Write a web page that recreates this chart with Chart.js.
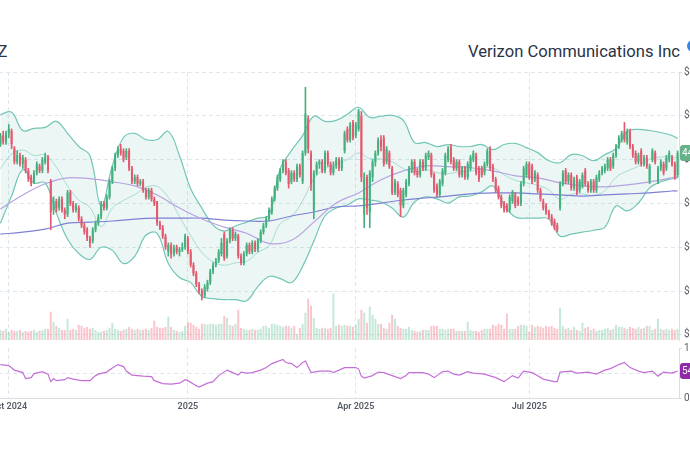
<!DOCTYPE html>
<html>
<head>
<meta charset="utf-8">
<title>VZ</title>
<script src="https://cdn.jsdelivr.net/npm/chart.js@4.4.1/dist/chart.umd.min.js"></script>
<style>
  html, body { margin: 0; padding: 0; background: #fff; }
  body { width: 690px; height: 450px; overflow: hidden; position: relative; }
  .ticker, .company {
    position: absolute; top: 42px; font-family: Roboto, sans-serif;
    font-size: 16.6px; line-height: 20px; color: #2b3345; white-space: nowrap;
  }
  .ticker { left: -13px; }
  .company { right: 10px; }
  .logo { position: absolute; left: 687px; top: 40px; width: 12px; height: 12px; border-radius: 50%; background: #3d86e0; }
  #priceChart { position: absolute; left: -41px; top: 60px; }
  #rsiChart { position: absolute; left: -41px; top: 340px; }
</style>
</head>
<body>
<div class="ticker">VZ</div>
<div class="company">Verizon Communications Inc</div>
<div class="logo"></div>
<canvas id="priceChart" width="780" height="288"></canvas>
<canvas id="rsiChart" width="780" height="81"></canvas>
<script>
// daily candles, Sep 26 2024 .. Sep 16 2025 (one entry per trading day)
const open = [44.7,45.1,44.8,45.2,45.3,44.5,43.9,44.2,43.8,44.0,
  43.5,43.2,43.0,43.4,43.7,43.5,43.9,44.1,43.0,41.7,
  42.1,41.8,42.2,41.7,41.5,42.5,42.0,41.7,41.8,41.3,
  41.0,40.8,40.4,40.3,40.8,41.1,41.4,42.0,41.8,42.3,
  43.0,43.6,44.2,44.5,44.4,44.1,44.4,43.6,43.0,43.2,
  42.9,43.0,42.6,42.3,42.6,42.2,42.1,41.1,40.9,40.5,
  39.8,40.1,39.7,40.0,39.8,39.9,40.0,40.4,39.8,39.2,
  38.8,38.3,38.0,37.8,38.1,38.4,38.9,39.2,39.4,39.7,
  40.6,39.6,40.3,40.8,40.4,40.5,39.6,39.3,39.7,40.1,
  39.8,40.2,39.9,40.3,40.7,41.0,41.3,41.6,42.2,42.7,
  43.1,43.5,43.9,43.5,43.0,43.4,43.1,43.7,43.0,44.3,
  45.9,44.3,41.7,43.4,43.8,43.9,43.5,44.3,43.8,43.4,
  43.7,44.0,43.6,44.4,45.4,44.9,45.7,45.1,45.4,46.0,
  41.5,43.2,41.6,43.2,43.9,44.3,44.9,45.0,43.9,44.3,
  43.6,42.5,42.9,42.6,41.9,42.4,42.9,43.5,43.9,43.5,
  43.3,43.9,43.6,44.1,44.2,43.3,42.8,42.4,42.9,43.4,
  44.0,44.6,44.0,43.6,43.9,43.3,43.6,43.2,43.6,44.0,
  44.2,43.6,43.6,43.4,43.8,44.5,43.7,43.1,42.7,42.3,
  42.0,41.9,41.7,42.1,42.4,42.2,42.0,42.9,43.3,43.8,
  43.7,43.1,43.3,42.6,42.1,41.9,41.6,41.4,41.2,41.0,
  41.8,42.9,43.5,43.0,43.3,42.7,43.2,42.6,42.8,43.5,
  42.9,42.6,43.0,42.6,43.1,43.4,43.5,43.6,44.0,43.7,
  44.2,44.6,44.9,45.3,44.8,45.3,44.6,44.3,43.9,44.4,
  43.8,44.1,43.0,44.0,44.3,43.0,43.6,43.8,43.6,44.0,
  44.1,43.8,43.3];
const high = [45.2,45.3,45.3,45.6,45.4,44.6,44.4,44.3,44.2,44.1,
  43.6,43.3,43.5,43.9,43.8,44.1,44.3,44.2,43.1,42.3,
  42.2,42.3,42.3,41.8,42.6,42.6,42.1,42.0,41.9,41.4,
  41.1,40.9,40.5,40.9,41.2,41.5,42.1,42.1,42.4,43.1,
  43.7,44.3,44.6,44.7,44.5,44.5,44.5,43.7,43.3,43.3,
  43.1,43.1,42.7,42.7,42.7,42.3,42.1,41.2,41.0,40.6,
  40.2,40.2,40.1,40.1,40.0,40.2,40.6,40.5,39.9,39.3,
  38.9,38.4,38.1,38.3,38.5,39.0,39.3,39.5,39.9,40.4,
  40.7,40.4,40.9,40.9,40.7,40.6,39.7,39.8,40.2,40.2,
  40.3,40.3,40.4,40.8,41.1,41.4,41.8,42.3,42.8,43.3,
  43.6,44.0,44.0,43.6,43.5,43.5,43.8,43.8,44.4,47.3,
  46.0,44.4,43.5,43.9,44.0,44.0,44.4,44.4,43.9,43.9,
  44.1,44.1,44.1,45.3,45.5,45.7,45.8,45.7,46.3,46.2,
  43.4,43.3,43.5,44.0,44.4,45.0,45.1,45.1,44.6,44.4,
  43.7,43.1,43.0,42.7,42.7,43.1,43.7,44.0,44.0,43.6,
  44.0,44.0,44.3,44.4,44.3,43.4,42.9,43.1,43.6,44.3,
  44.6,44.7,44.1,44.0,44.0,43.7,43.7,43.9,44.2,44.4,
  44.3,43.7,43.7,43.9,44.5,44.6,43.8,43.2,42.8,42.4,
  42.1,42.0,42.4,42.6,42.5,42.3,43.0,43.7,43.9,43.9,
  43.8,43.5,43.4,42.7,42.2,42.0,41.7,41.5,41.3,41.1,
  43.0,43.5,43.6,43.4,43.4,43.2,43.3,43.1,43.4,43.6,
  43.0,43.1,43.1,43.3,43.5,43.7,43.8,44.1,44.1,44.3,
  44.7,45.1,45.3,45.7,45.4,45.4,44.7,44.4,44.3,44.5,
  44.2,44.2,43.8,44.5,44.4,43.7,44.0,43.9,44.2,44.4,
  44.2,43.9,44.4];
const low = [44.6,44.7,44.7,45.0,44.5,43.8,43.8,43.7,43.6,43.4,
  43.0,42.8,42.9,43.3,43.4,43.4,43.8,43.4,40.8,41.5,
  41.6,41.7,41.6,41.3,41.4,41.9,41.6,41.6,41.2,40.9,
  40.6,40.3,40.0,40.2,40.7,41.0,41.3,41.7,41.7,42.2,
  42.9,43.5,44.1,44.2,43.9,44.0,43.5,42.9,42.9,42.8,
  42.8,42.5,42.2,42.2,42.1,41.9,41.0,40.8,40.4,39.9,
  39.6,39.5,39.6,39.7,39.6,39.8,39.9,39.7,39.1,38.7,
  38.2,37.9,37.6,37.7,38.0,38.3,38.8,39.1,39.3,39.6,
  39.4,39.5,40.2,40.3,40.3,39.5,39.2,39.2,39.6,39.7,
  39.7,39.8,39.8,40.2,40.6,40.9,41.2,41.5,42.1,42.6,
  43.0,43.4,43.3,42.7,42.9,43.0,43.0,43.2,42.9,44.2,
  44.3,42.6,41.3,43.3,43.6,43.4,43.4,43.7,43.3,43.3,
  43.6,43.5,43.5,44.3,44.8,44.8,44.9,45.0,45.3,43.0,
  40.9,41.5,40.9,43.0,43.7,44.2,44.4,43.7,43.8,43.6,
  42.4,42.4,42.3,41.4,41.8,42.3,42.8,43.4,43.3,43.2,
  43.2,43.5,43.5,44.0,43.2,42.5,42.3,42.3,42.8,43.3,
  43.9,43.8,43.5,43.5,43.2,43.2,43.1,43.1,43.5,43.9,
  43.3,43.0,43.2,43.3,43.7,43.5,43.0,42.5,42.2,41.8,
  41.6,41.6,41.6,42.0,41.8,41.9,41.9,42.8,43.2,43.1,
  42.9,43.0,42.5,42.1,41.7,41.5,41.3,41.0,40.8,40.7,
  41.7,42.8,42.9,42.9,42.6,42.6,42.4,42.5,42.7,42.8,
  42.5,42.5,42.5,42.5,43.0,43.3,43.4,43.5,43.5,43.6,
  44.1,44.5,44.8,44.8,44.7,44.5,44.1,43.8,43.8,43.7,
  43.7,43.6,42.9,43.9,43.8,42.9,43.5,43.3,43.5,43.9,
  43.7,43.1,43.2];
const close = [45.1,44.8,45.2,45.4,44.7,43.9,44.2,43.8,44.1,43.5,
  43.1,42.9,43.4,43.8,43.5,44.0,44.1,43.5,41.6,42.1,
  41.8,42.2,41.7,41.5,42.5,42.0,41.7,41.9,41.3,41.0,
  40.7,40.4,40.2,40.8,41.1,41.4,42.0,41.8,42.3,43.0,
  43.6,44.2,44.5,44.3,44.0,44.4,43.6,43.0,43.2,42.9,
  43.0,42.6,42.3,42.6,42.2,42.0,41.1,40.9,40.5,40.0,
  40.1,39.7,40.0,39.8,39.9,40.0,40.5,39.8,39.2,38.8,
  38.3,38.0,37.8,38.2,38.4,38.9,39.2,39.4,39.8,40.2,
  39.5,40.3,40.8,40.4,40.6,39.6,39.3,39.7,40.1,39.8,
  40.2,39.9,40.3,40.7,41.0,41.3,41.7,42.2,42.7,43.2,
  43.5,43.9,43.4,42.9,43.4,43.1,43.7,43.3,44.3,46.1,
  44.5,42.9,43.4,43.8,43.9,43.5,44.3,43.8,43.4,43.7,
  44.0,43.6,44.0,45.2,44.9,45.6,45.0,45.6,46.2,43.2,
  43.2,41.8,43.4,43.9,44.3,44.9,44.6,43.8,44.5,43.7,
  42.5,43.0,42.4,41.9,42.6,43.0,43.6,43.9,43.4,43.3,
  43.9,43.6,44.2,44.3,43.3,42.6,42.4,43.0,43.5,44.2,
  44.5,43.9,43.6,43.9,43.3,43.6,43.2,43.8,44.1,44.3,
  43.4,43.1,43.3,43.8,44.4,43.6,43.1,42.6,42.3,41.9,
  41.7,41.7,42.3,42.5,41.9,42.0,42.9,43.6,43.8,43.2,
  43.0,43.4,42.6,42.2,41.8,41.6,41.4,41.1,40.9,40.8,
  42.9,43.4,43.0,43.3,42.7,43.1,42.5,43.0,43.3,42.9,
  42.6,43.0,42.6,43.2,43.4,43.6,43.7,44.0,43.6,44.2,
  44.6,45.0,45.2,44.9,45.3,44.6,44.2,43.9,44.2,43.8,
  44.1,43.7,43.7,44.4,43.9,43.6,43.9,43.4,44.1,44.3,
  43.8,43.2,44.3];
// volume, millions of shares
const volume = [20,18,22,16,20,18,18,20,16,18,
  16,18,20,16,18,20,22,22,56,36,
  28,24,20,20,42,20,22,20,30,28,
  24,26,22,24,20,16,16,18,20,24,
  34,22,20,18,20,22,26,22,20,22,
  20,20,22,20,24,38,26,24,24,26,
  46,26,20,18,16,18,28,36,34,30,
  26,22,32,32,30,32,32,30,32,32,
  48,44,30,28,32,60,24,22,20,20,
  22,20,20,22,28,28,24,32,32,30,
  28,26,28,28,24,28,12,24,32,54,
  82,68,44,24,22,24,24,22,24,92,
  28,30,28,30,28,28,26,30,42,60,
  54,34,66,50,42,32,32,24,22,34,
  50,42,28,24,22,22,26,20,18,16,
  18,20,20,20,28,28,28,22,22,20,
  22,22,22,18,18,18,18,36,20,18,
  18,16,20,22,22,22,30,28,32,30,
  22,52,22,22,22,28,30,30,28,16,
  30,26,28,26,24,28,26,28,24,22,
  64,28,22,24,20,26,20,18,34,24,
  26,20,22,18,20,20,22,24,20,22,
  30,26,26,24,22,26,24,22,26,22,
  24,28,28,20,22,42,22,20,22,20,
  22,20,22];

// Bollinger bands (20, 2), read every 4th session
const bandIdx = [0,4,8,12,16,20,24,28,32,36,40,44,48,52,56,60,64,68,72,76,80,84,88,92,96,100,
  104,108,112,116,120,124,128,132,136,140,144,148,152,156,160,164,168,172,176,180,184,188,
  192,196,200,204,208,212,216,220,224,228,232,236,240,242];
const bbUpper = [46.07,46.16,45.33,45.43,45.47,45.75,45.20,44.60,44.18,41.89,43.72,45.01,45.20,
  44.92,44.92,45.29,44.18,42.67,41.79,41.01,40.74,40.97,41.15,41.33,41.47,43.59,44.41,45.10,
  45.98,45.75,45.79,46.07,46.39,45.93,45.98,46.02,45.79,44.78,44.78,44.60,44.69,44.60,44.60,
  44.69,44.46,44.69,44.74,44.55,44.32,43.95,43.86,44.23,44.18,43.95,44.23,44.51,45.29,45.38,
  45.33,45.24,45.10,44.97];
const bbLower = [41.10,42.34,43.54,42.94,42.94,41.56,40.37,39.72,39.45,40.00,39.86,39.26,39.59,
  40.55,40.64,39.26,38.62,38.39,37.75,37.66,37.61,37.61,37.56,38.21,38.67,38.57,38.39,39.13,
  40.28,41.43,41.79,41.93,42.21,42.16,42.07,41.79,41.38,42.07,42.30,42.21,42.02,42.30,42.34,
  42.53,42.80,41.93,41.38,41.33,41.33,41.29,40.51,40.60,40.69,40.78,40.92,41.89,41.66,42.02,
  42.71,42.99,43.13,43.17];
const bbMid = [43.59,44.25,44.44,44.19,44.21,43.66,42.79,42.16,41.82,40.95,41.79,42.14,42.40,
  42.74,42.78,42.28,41.40,40.53,39.77,39.34,39.18,39.29,39.36,39.77,40.07,41.08,41.40,42.12,
  43.13,43.59,43.79,44.00,44.30,44.05,44.03,43.91,43.59,43.43,43.54,43.41,43.36,43.45,43.47,
  43.61,43.63,43.31,43.06,42.94,42.83,42.62,42.19,42.42,42.44,42.37,42.58,43.20,43.48,43.70,
  44.02,44.12,44.12,44.07];

// moving averages, read every 8th session
const maIdx = [0,8,16,24,32,40,48,56,64,72,80,88,96,104,112,120,128,136,144,152,160,168,176,
  184,192,200,208,216,224,232,240,242];
const sma50 = [41.75,42.39,42.90,43.17,43.13,42.99,42.80,42.39,41.79,41.29,40.92,40.64,40.18,
  40.32,41.15,42.02,42.48,43.08,43.49,43.72,43.68,43.63,43.49,43.26,43.17,42.94,42.80,42.76,
  42.85,42.99,43.17,43.22];
const sma200 = [40.60,40.69,40.83,41.10,41.15,41.20,41.29,41.33,41.33,41.33,41.24,41.20,41.20,
  41.43,41.61,41.84,41.89,42.02,42.16,42.25,42.34,42.44,42.48,42.48,42.44,42.39,42.34,42.39,
  42.44,42.48,42.57,42.57];

// RSI (14)
const rsiIdx = [0,3,5,8,9,11,12,15,17,18,19,20,23,24,26,29,32,34,35,38,40,42,44,45,47,51,54,55,
  58,61,64,66,67,70,71,74,76,78,81,83,85,86,88,90,93,95,97,101,102,104,106,108,109,111,114,
  118,119,123,127,128,129,130,133,135,137,140,143,145,146,151,153,155,158,160,162,164,167,169,
  173,177,180,183,185,187,190,191,194,198,199,200,204,206,210,213,216,218,221,223,225,228,230,
  233,235,237,240,242];
const rsiVal = [67,65,56,51,39,41,49,53,48,33,39,35,37,41,38,35,35,45,48,52,60,67,63,54,46,44,43,
  35,29,28,30,37,35,25,22,30,33,45,56,51,46,52,50,51,56,61,69,77,71,69,61,71,74,51,54,54,51,
  61,61,58,44,40,45,52,51,45,39,45,51,51,48,41,53,54,48,46,53,50,48,41,33,45,40,54,51,48,38,
  33,33,52,54,50,52,48,56,59,67,71,61,54,51,54,44,52,50,54];

const tickIdx = [3, 67, 127, 189];
const tickLabels = ['Oct 2024', '2025', 'Apr 2025', 'Jul 2025'];
const priceTicks = [36, 38, 40, 42, 44, 46, 48];
const rsiTicks = [0, 30, 50, 70, 100];

const upColor = '#45b07f';
const downColor = '#e35a6e';
const gridColor = '#dfe7ee';
const borderColor = '#d9dee4';
const labelColor = '#555b66';

Chart.defaults.font.family = 'Roboto, sans-serif';

function isUp(i) {
  return close[i] >= open[i];
}

function pts(ix, vals) {
  return ix.map((k, j) => ({ x: k, y: vals[j] }));
}

const lastTag = {
  id: 'lastTag',
  afterDraw(chart, args, opts) {
    const y = chart.scales[opts.axis].getPixelForValue(opts.value);
    const x = chart.chartArea.right + 1;
    const ctx = chart.ctx;
    ctx.save();
    ctx.fillStyle = opts.color;
    ctx.beginPath();
    ctx.roundRect(x, y - 8, 46, 16, 3);
    ctx.fill();
    ctx.fillStyle = '#fff';
    ctx.font = '10px Roboto';
    ctx.textBaseline = 'middle';
    ctx.fillText(opts.text, x + 2, y + 0.5);
    ctx.restore();
  }
};

const xAxisBase = {
  type: 'linear',
  min: -0.5,
  max: 242.5,
  offset: false,
  afterBuildTicks: ax => { ax.ticks = tickIdx.map(v => ({ value: v })); }
};

// price + volume panel
new Chart(document.getElementById('priceChart'), {
  type: 'bar',
  data: {
    datasets: [
      {
        type: 'bar', yAxisID: 'yv', order: 10, grouped: false,
        data: volume.map((v, i) => ({ x: i, y: v })),
        backgroundColor: volume.map((v, i) => isUp(i) ? 'rgba(69,176,127,0.3)' : 'rgba(240,104,120,0.38)')
      },
      {
        type: 'line', order: 8, data: pts(bandIdx, bbUpper),
        borderColor: '#72c6b6', borderWidth: 1.2, pointRadius: 0, tension: 0.4, fill: false
      },
      {
        type: 'line', order: 8, data: pts(bandIdx, bbLower),
        borderColor: '#72c6b6', borderWidth: 1.2, pointRadius: 0, tension: 0.4,
        fill: '-1', backgroundColor: 'rgba(60,170,155,0.1)'
      },
      {
        type: 'line', order: 7, data: pts(bandIdx, bbMid),
        borderColor: 'rgba(114,198,182,0.55)', borderWidth: 1, pointRadius: 0, tension: 0.4, fill: false
      },
      {
        type: 'line', order: 6, data: pts(maIdx, sma50),
        borderColor: '#b7a3e2', borderWidth: 1.2, pointRadius: 0, tension: 0.4, fill: false
      },
      {
        type: 'line', order: 6, data: pts(maIdx, sma200),
        borderColor: '#7d80d4', borderWidth: 1.2, pointRadius: 0, tension: 0.4, fill: false
      },
      {
        type: 'bar', order: 2, grouped: false, barThickness: 1,
        data: close.map((c, i) => ({ x: i, y: [low[i], high[i]] })),
        backgroundColor: close.map((c, i) => isUp(i) ? upColor : downColor)
      },
      {
        type: 'bar', order: 1, grouped: false, minBarLength: 1,
        data: close.map((c, i) => ({ x: i, y: [open[i], c] })),
        backgroundColor: close.map((c, i) => isUp(i) ? upColor : downColor)
      }
    ]
  },
  options: {
    responsive: false,
    animation: false,
    layout: { padding: { left: 40, right: 0, top: 12, bottom: 2 } },
    plugins: {
      legend: { display: false },
      tooltip: { enabled: false },
      lastTag: { axis: 'y', value: close[close.length - 1], text: close[close.length - 1].toFixed(2), color: '#66b189' }
    },
    scales: {
      x: Object.assign({}, xAxisBase, {
        grid: { offset: false, color: gridColor, drawTicks: false },
        border: { display: false, dash: [4, 3] },
        ticks: { display: false }
      }),
      y: {
        position: 'right',
        min: 35.77,
        max: 48,
        grid: { color: gridColor, tickLength: 3, tickColor: borderColor },
        border: { color: borderColor, dash: [4, 3] },
        ticks: { color: labelColor, font: { size: 10 }, padding: 2, callback: v => '$' + v.toFixed(2) },
        afterBuildTicks: ax => { ax.ticks = priceTicks.map(v => ({ value: v })); },
        afterFit: ax => { ax.width = 60; }
      },
      yv: { display: false, min: 0, max: 530 }
    }
  },
  plugins: [lastTag]
});

// RSI panel
new Chart(document.getElementById('rsiChart'), {
  type: 'line',
  data: {
    datasets: [{
      data: pts(rsiIdx, rsiVal),
      borderColor: '#c46fd6', borderWidth: 1.2, pointRadius: 0, tension: 0, fill: false
    }]
  },
  options: {
    responsive: false,
    animation: false,
    layout: { padding: { left: 40, right: 0, top: 7, bottom: 6 } },
    plugins: {
      legend: { display: false },
      tooltip: { enabled: false },
      lastTag: { axis: 'y', value: rsiVal[rsiVal.length - 1], text: rsiVal[rsiVal.length - 1].toFixed(2), color: '#8e2aa8' }
    },
    scales: {
      x: Object.assign({}, xAxisBase, {
        grid: { color: gridColor, drawTicks: false },
        border: { color: borderColor, dash: [4, 3] },
        ticks: {
          color: labelColor, padding: 3, autoSkip: false, maxRotation: 0,
          font: { size: 9, weight: '600' },
          callback: (v, i) => tickLabels[i]
        }
      }),
      y: {
        position: 'right',
        min: 0,
        max: 100,
        grid: {
          color: c => (c.tick && [30, 50, 70].includes(c.tick.value)) ? gridColor : 'rgba(0,0,0,0)',
          tickLength: 3,
          tickColor: c => (c.tick && (c.tick.value === 0 || c.tick.value === 100)) ? borderColor : 'rgba(0,0,0,0)'
        },
        border: { color: borderColor, dash: [4, 3] },
        ticks: {
          color: labelColor, font: { size: 10 }, padding: 2,
          callback: v => (v === 0 || v === 100) ? String(v) : ''
        },
        afterBuildTicks: ax => { ax.ticks = rsiTicks.map(v => ({ value: v })); },
        afterFit: ax => { ax.width = 60; }
      }
    }
  },
  plugins: [lastTag]
});
</script>
</body>
</html>
